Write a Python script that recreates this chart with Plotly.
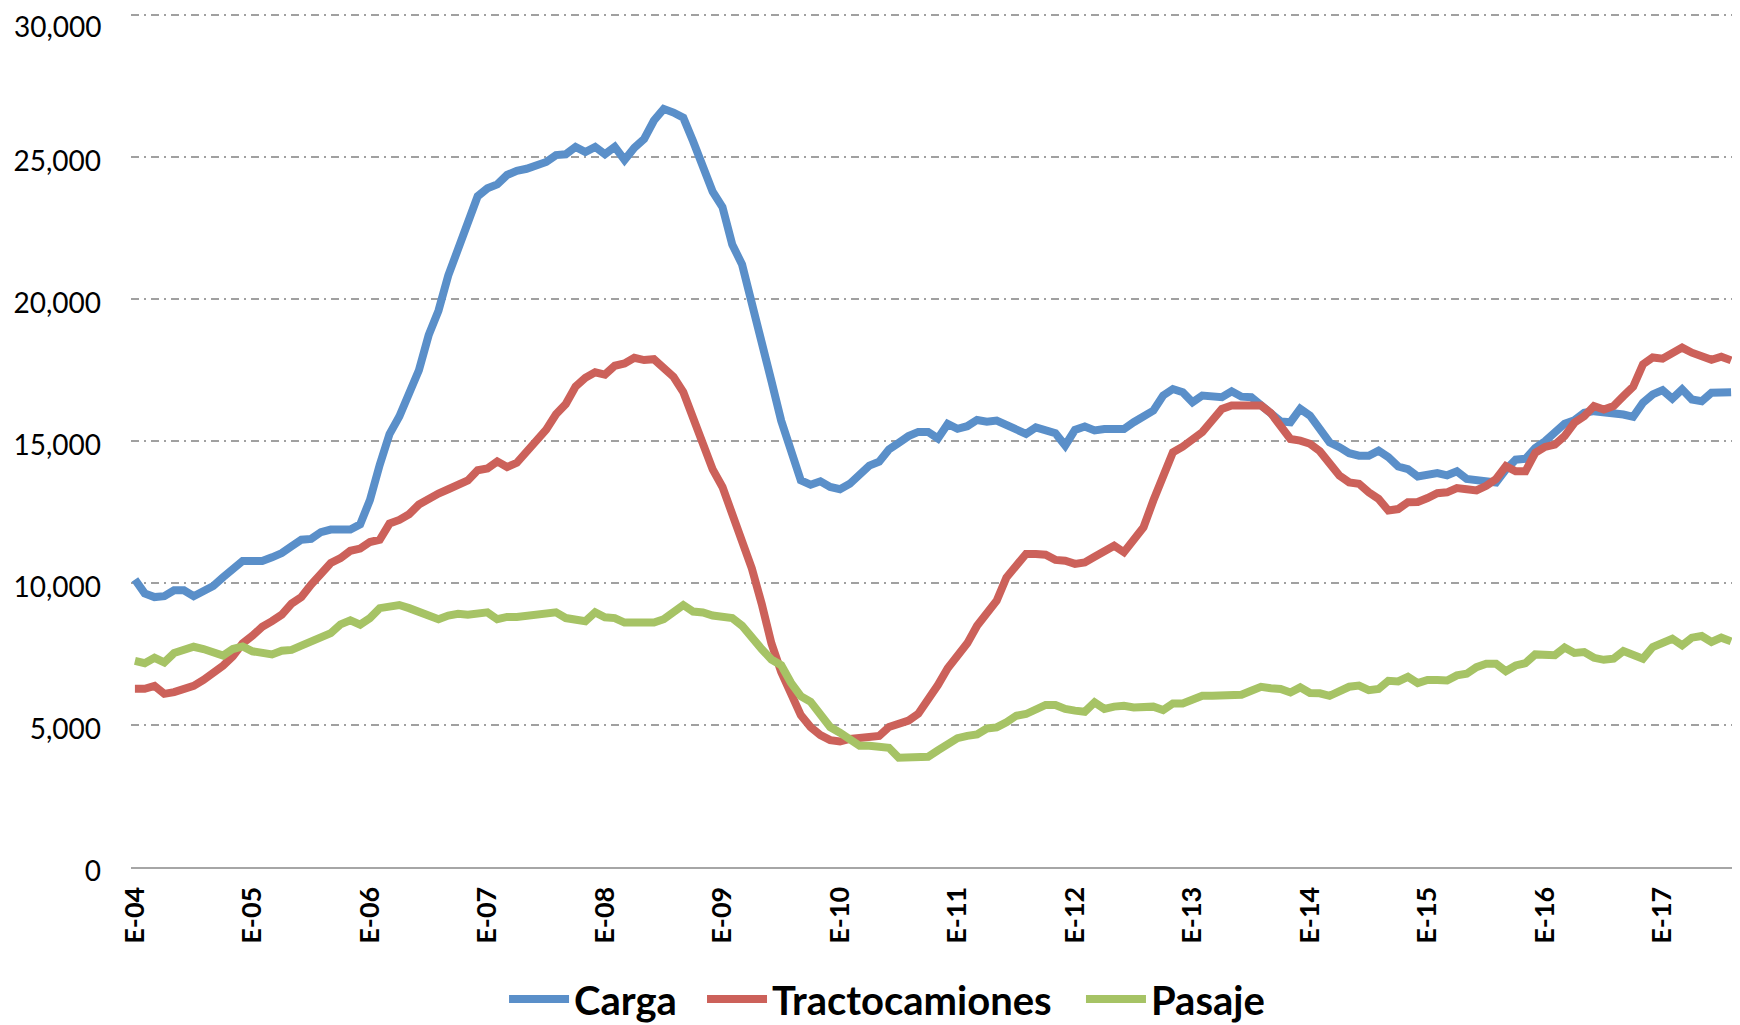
import plotly.graph_objects as go

# Monthly series, Jan-2004 .. Aug-2017
carga = [
    10130, 9640, 9510, 9540, 9750, 9750, 9540, 9700, 9900, 10210, 10520, 10780,
    10780, 10780, 10910, 11060, 11300, 11530, 11560, 11800, 11890, 11890, 11890, 12070,
    12930, 14170, 15250, 15870, 16650, 17500, 18740, 19600, 20840, 21770, 22860, 23630,
    23910, 24050, 24380, 24530, 24600, 24750, 24840, 25080, 25110, 25370, 25190, 25370,
    25110, 25370, 24910, 25340, 25650, 26300, 26710, 26580, 26400, 25570, 24720, 23790,
    23250, 21930, 21230, 19910, 18670, 17120, 15720, 14630, 13620, 13470, 13590, 13390,
    13310, 13500, 13810, 14140, 14280, 14710, 14940, 15180, 15330, 15330, 15100, 15610,
    15440, 15530, 15750, 15690, 15730, 15550, 15380, 15260, 15490, 15380, 15280, 14850,
    15400, 15520, 15380, 15430, 15410, 15430, 15670, 15900, 16080, 16610, 16840, 16730,
    16370, 16610, 16550, 16550, 16760, 16570, 16550, 16260, 15900, 15700, 15670, 16140,
    15900, 15380, 14960, 14790, 14580, 14490, 14490, 14670, 14440, 14110, 14020, 13760,
    13820, 13880, 13800, 13940, 13670, 13640, 13590, 13550, 14000, 14350, 14380, 14760,
    15000, 15350, 15620, 15740, 16000, 16060, 16030, 16000, 15940, 15860, 16360, 16650,
    16800, 16500, 16830, 16470, 16410, 16710, 16710, 16730,
]
tractocamiones = [
    6280, 6280, 6380, 6100, 6160, 6280, 6380, 6590, 6800, 7090, 7420, 7880,
    8150, 8460, 8660, 8890, 9280, 9510, 9950, 10290, 10710, 10880, 11140, 11220,
    11450, 11530, 12100, 12230, 12430, 12770, 13000, 13160, 13310, 13500, 13620, 13980,
    14040, 14290, 14090, 14240, 14630, 14940, 15410, 15950, 16310, 16930, 17240, 17430,
    17350, 17660, 17740, 17940, 17860, 17890, 17610, 17270, 16730, 15800, 14950, 14010,
    13390, 12380, 11530, 10520, 9280, 7880, 6870, 6020, 5350, 4930, 4650, 4470,
    4420, 4510, 4540, 4540, 4620, 4930, 5060, 5160, 5400, 5860, 6410, 7000,
    7470, 7880, 8500, 8920, 9380, 10200, 10650, 11030, 11030, 11000, 10820, 10790,
    10680, 10730, 10930, 11090, 11320, 11090, 11500, 11970, 12910, 13850, 14610, 14810,
    15050, 15320, 15730, 16140, 16260, 16280, 16290, 16260, 15990, 15550, 15080, 15020,
    14910, 14650, 14200, 13790, 13550, 13500, 13200, 12970, 12560, 12610, 12850, 12860,
    13000, 13170, 13200, 13350, 13310, 13270, 13430, 13670, 14120, 13940, 13940, 14590,
    14800, 14880, 15180, 15650, 15880, 16240, 16120, 16240, 16590, 16920, 17710, 17950,
    17910, 18070, 18300, 18120, 18000, 17870, 17980, 17850,
]
pasaje = [
    7260, 7180, 7370, 7210, 7540, 7620, 7760, 7680, 7560, 7450, 7680, 7770,
    7600, 7540, 7490, 7620, 7650, 7800, 7930, 8040, 8240, 8550, 8690, 8540,
    8770, 9120, 9150, 9230, 9120, 9010, 8890, 8730, 8860, 8920, 8890, 8920,
    8970, 8730, 8810, 8810, 8840, 8860, 8890, 8970, 8770, 8730, 8660, 8970,
    8800, 8770, 8610, 8610, 8640, 8610, 8730, 9000, 9230, 9000, 8970, 8860,
    8810, 8770, 8500, 8040, 7680, 7310, 7110, 6490, 6020, 5820, 5350, 4930,
    4730, 4470, 4270, 4270, 4240, 4200, 3850, 3850, 3850, 3880, 4110, 4360,
    4540, 4620, 4670, 4880, 4920, 5100, 5330, 5390, 5530, 5710, 5710, 5570,
    5510, 5470, 5800, 5570, 5650, 5680, 5620, 5620, 5650, 5530, 5760, 5760,
    5860, 6030, 6030, 6060, 6030, 6070, 6210, 6350, 6300, 6270, 6150, 6330,
    6130, 6120, 6030, 6210, 6350, 6390, 6230, 6270, 6560, 6540, 6700, 6480,
    6590, 6590, 6570, 6750, 6810, 7040, 7160, 7160, 6900, 7100, 7180, 7490,
    7480, 7460, 7730, 7540, 7570, 7370, 7300, 7340, 7610, 7510, 7340, 7750,
    7930, 8040, 7810, 8080, 8140, 7930, 8080, 7950,
]
tick_labels = ["E-04", "E-05", "E-06", "E-07", "E-08", "E-09", "E-10",
               "E-11", "E-12", "E-13", "E-14", "E-15", "E-16", "E-17"]
y_ticks = [0, 5000, 10000, 15000, 20000, 25000, 30000]

months = list(range(len(carga)))
tick_pos = [12 * i for i in range(len(tick_labels))]
y_top = y_ticks[-1]

FONT = "Lato"
# name, values, colour, legend id, legend x (container fraction)
series = [
    ("Carga", carga, "#5A8FC9", "legend", 0.2864),
    ("Tractocamiones", tractocamiones, "#CC615A", "legend2", 0.4007),
    ("Pasaje", pasaje, "#A6C365", "legend3", 0.6195),
]

fig = go.Figure()
for name, vals, col, lg, _ in series:
    fig.add_trace(go.Scatter(
        x=months, y=vals, name=name, mode="lines",
        line=dict(color=col, width=8),
        legend=lg,
    ))

legend_common = dict(
    orientation="h", xanchor="left", xref="container", yref="container",
    y=0.0256, yanchor="middle",
    font=dict(family=FONT, size=40, color="black", weight="bold"),
    itemwidth=60, bgcolor="rgba(0,0,0,0)",
)
layout_legends = {}
for name, vals, col, lg, xpos in series:
    layout_legends[lg] = dict(legend_common, x=xpos)

fig.update_layout(
    width=1732, height=1017,
    margin=dict(l=123, r=5, t=3, b=158),
    paper_bgcolor="white", plot_bgcolor="white",
    font=dict(family=FONT, color="black"),
    showlegend=True,
    **layout_legends,
)
fig.update_xaxes(
    range=[-0.4, 163.4],
    tickmode="array", tickvals=tick_pos, ticktext=tick_labels,
    tickangle=-90,
    tickfont=dict(family=FONT, size=27, color="black", weight="bold"),
    showgrid=False, zeroline=False,
    showline=True, linecolor="#A6A6A6", linewidth=2,
    ticks="", ticklabelstandoff=7, automargin=False,
)
# top tick label is drawn as an annotation so it stays inside the figure
fig.update_yaxes(
    range=[0, 30158],
    tickmode="array", tickvals=y_ticks,
    ticktext=[f"{v:,}" if v != y_top else "" for v in y_ticks],
    tickfont=dict(family=FONT, size=28, color="black"),
    showgrid=True, gridcolor="#A0A0A0", gridwidth=2,
    griddash="8px,5px,2px,5px",
    zeroline=False, showline=False,
    ticks="", ticklabelstandoff=29, ticklabelshift=4,
    ticklabeloverflow="allow", automargin=False,
)
fig.add_annotation(
    text=f"{y_top:,}", xref="paper", x=0, xanchor="right", xshift=-28,
    yref="paper", y=1, yanchor="top", yshift=3,
    showarrow=False, borderpad=0,
    font=dict(family=FONT, size=28, color="black"),
)

fig.write_html("out.html")
